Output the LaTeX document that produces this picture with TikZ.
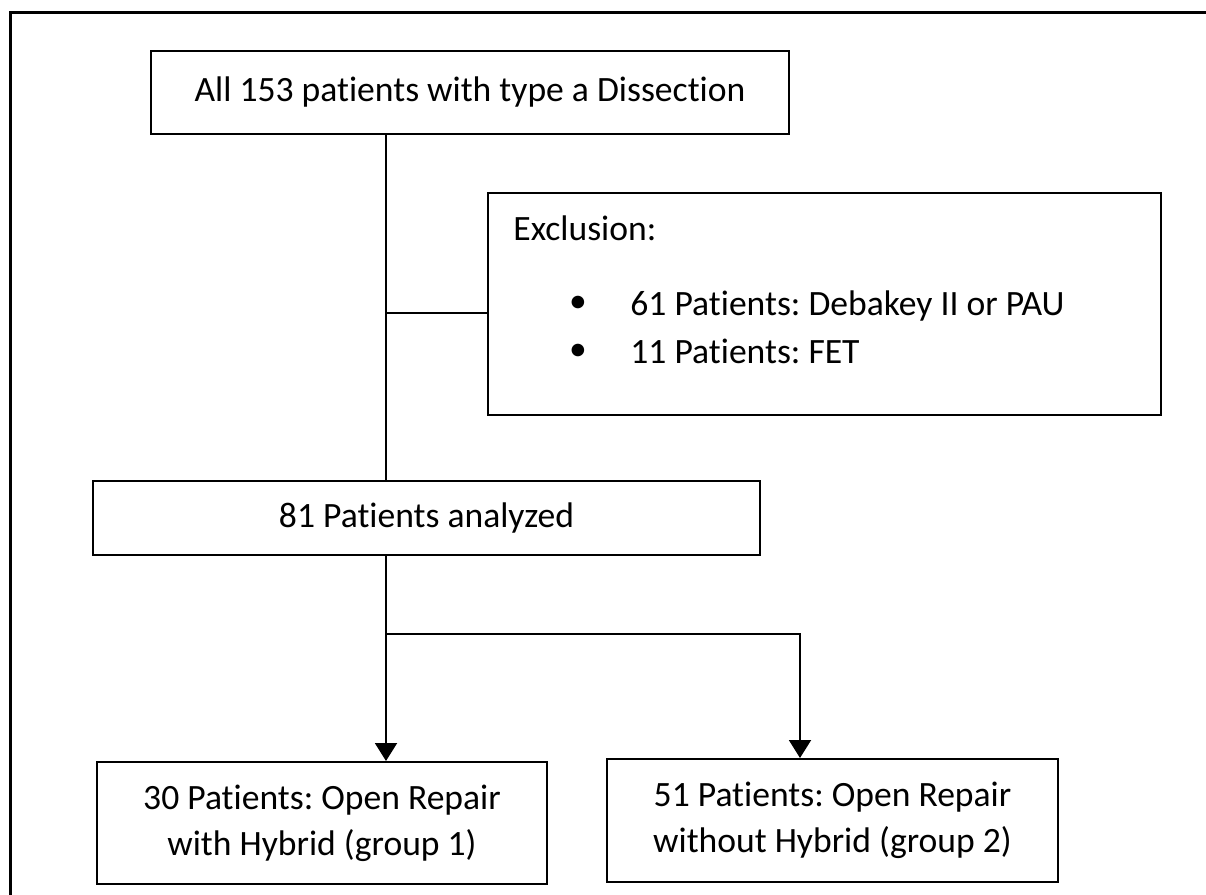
\documentclass[tikz,border=0pt]{standalone}
\usepackage{fontspec}
\setmainfont{Carlito}[Ligatures={NoCommon,NoContextual},RawFeature={-liga;-clig;-dlig}]
\frenchspacing
\usetikzlibrary{arrows.meta}
\begin{document}
\begin{tikzpicture}[x=0.5pt,y=-0.5pt,
  box/.style={draw=black,line width=1pt,inner sep=0pt,align=center,
    font=\fontsize{17.8}{23}\selectfont},
  txt/.style={inner sep=0pt,anchor=base west,font=\fontsize{17.8}{23}\selectfont},
  conn/.style={draw=black,line width=1pt},
  arr/.style={conn,-{Triangle[width=11pt,length=9pt]}}]
\useasboundingbox (0,0) rectangle (1206,895);
% outer frame (top and left edges)
\draw[line width=1.5pt] (10,895) -- (10,12) -- (1206,12);
% boxes
\node[box,minimum width=319pt,minimum height=41.5pt] (b1) at (470,92.5) {All 153 patients with type a Dissection};
\node[box,minimum width=336.5pt,minimum height=111pt] (ex) at (824.5,304) {};
\node[txt] (exh) at (513,240) {Exclusion:};
\node[txt,anchor=center] (bu1) at (578,304) {\textbullet};
\node[txt] (e1) at (630,315) {61 Patients: Debakey II or PAU};
\node[txt,anchor=center] (bu2) at (578,352) {\textbullet};
\node[txt] (e2) at (630,363) {11 Patients: FET};
\node[box,minimum width=333.5pt,minimum height=37pt] (b2) at (426.5,518) {81 Patients analyzed};
\node[box,minimum width=225pt,minimum height=61pt] (b3) at (322,823) {30 Patients: Open Repair\\with Hybrid (group 1)};
\node[box,minimum width=225.5pt,minimum height=61.5pt] (b4) at (832.5,820.5) {51 Patients: Open Repair\\without Hybrid (group 2)};
% connectors
\coordinate (sp) at (386,313);
\coordinate (br) at (386,634);
\coordinate (bc) at (800,634);
\draw[conn] (sp |- b1.south) -- (sp |- b2.north);
\draw[conn] (sp) -- (sp -| ex.west);
\draw[arr] (sp |- b2.south) -- (sp |- b3.north);
\draw[arr] (br) -- (bc) -- (bc |- b4.north);
\end{tikzpicture}
\end{document}
